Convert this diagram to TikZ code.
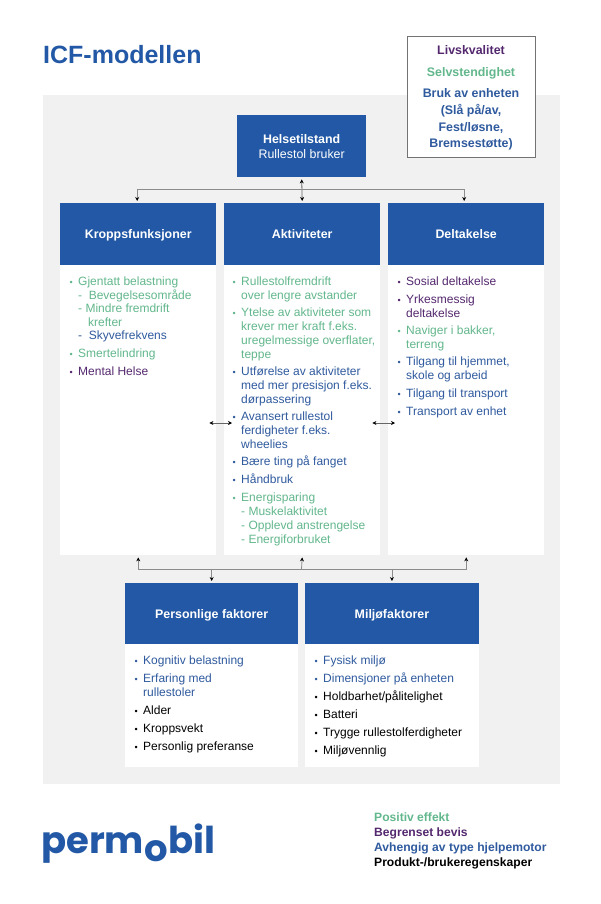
\documentclass[tikz,border=0pt]{standalone}
\usepackage{fontspec}
\setmainfont{Liberation Sans}
\newfontfamily\logofont{Poppins}
\definecolor{pblue}{HTML}{2258A5}
\definecolor{tblue}{HTML}{2F5A9E}
\definecolor{pgreen}{HTML}{62B78C}
\definecolor{ppurple}{HTML}{54286E}
\definecolor{pgray}{HTML}{F1F1F1}
\newcommand{\bl}{\strut\llap{\scalebox{0.75}{\textbullet}\hspace{5.5pt}}}
\tikzset{
  headbox/.style={fill=pblue,text=white,font=\fontsize{12.4}{15}\selectfont\bfseries,align=center,
    anchor=north west,inner sep=0pt,minimum height=62pt},
  onehead/.style={headbox,text height=10.5pt,text depth=1.5pt},
  bodybox/.style={fill=white,anchor=north west,inner sep=0pt},
  listitem/.style={anchor=north west,inner sep=0pt,align=left,font=\fontsize{12}{14}\selectfont},
  legend/.style={anchor=base west,inner sep=0pt,font=\fontsize{12.1}{14}\selectfont\bfseries},
  goal/.style={anchor=base,inner sep=0pt,font=\fontsize{12.4}{14}\selectfont\bfseries},
  logo/.style={anchor=base west,inner sep=0pt,text=pblue,font=\logofont\fontsize{37}{37}\selectfont\bfseries},
  link/.style={draw=black!45,line width=0.8pt},
  tip/.style={-{Stealth[black,length=4pt,width=4pt]},draw=black!45,line width=0.8pt},
  tips/.style={{Stealth[black,length=4pt,width=4pt]}-{Stealth[black,length=4pt,width=4pt]},draw=black!60,line width=0.8pt},
}
\usetikzlibrary{arrows.meta,calc}
\begin{document}
\begin{tikzpicture}[x=1pt,y=-1pt]
\useasboundingbox (0,0) rectangle (600,904);
\fill[pgray] (43,95) rectangle (560,784);
\node[anchor=base west,inner sep=0pt,text=pblue,font=\fontsize{25}{28}\selectfont\bfseries] (title) at (43,64) {ICF-modellen};
% outcome box
\node[draw=black!55,fill=white,anchor=north west,inner sep=0pt,minimum width=128pt,minimum height=121pt] (goalbox) at (407,36) {};
\node[goal,text=ppurple] (g1) at (471,55) {Livskvalitet};
\node[goal,text=pgreen] (g2) at (471,77) {Selvstendighet};
\node[goal,text=tblue] (g3) at (471,98) {Bruk av enheten};
\node[goal,text=tblue] (g4) at (471,115) {(Slå på/av,};
\node[goal,text=tblue] (g5) at (471,132) {Fest/løsne,};
\node[goal,text=tblue] (g6) at (471,148) {Bremsestøtte)};
% header boxes
\node[headbox,minimum width=129pt] (helse) at (237,115) {Helsetilstand\\\mdseries Rullestol bruker};
\node[onehead,minimum width=156pt] (kropp) at (60,203) {Kroppsfunksjoner};
\node[onehead,minimum width=156pt] (aktiv) at (224,203) {Aktiviteter};
\node[onehead,minimum width=156pt] (delta) at (388,203) {Deltakelse};
\node[bodybox,minimum width=156pt,minimum height=290pt] (kroppbody) at (60,265) {};
\node[bodybox,minimum width=156pt,minimum height=290pt] (aktivbody) at (224,265) {};
\node[bodybox,minimum width=156pt,minimum height=290pt] (deltabody) at (388,265) {};
\node[onehead,minimum width=173pt,minimum height=61pt] (person) at (125,583) {Personlige faktorer};
\node[onehead,minimum width=173.5pt,minimum height=61pt] (miljo) at (305,583) {Miljøfaktorer};
\node[bodybox,minimum width=173pt,minimum height=123pt] (personbody) at (125,644) {};
\node[bodybox,minimum width=173.5pt,minimum height=123pt] (miljobody) at (305,644) {};
% connectors
\coordinate (topbar) at (301.5,189);
\coordinate (lowbar) at (301.5,569);
\draw[tips] ([yshift=-2pt]helse.south) -- ([yshift=2pt]aktiv.north);
\draw[tip] (topbar) -| ([shift={(-1pt,2pt)}]kropp.north);
\draw[tip] (topbar) -| ([shift={(-2pt,2pt)}]delta.north);
\draw[tips] ([xshift=-7pt]kroppbody.east |- 0,423) -- ([xshift=8pt]aktivbody.west |- 0,423);
\draw[tips] ([xshift=-8pt]aktivbody.east |- 0,423) -- ([xshift=7pt]deltabody.west |- 0,423);
\draw[tip] (lowbar) -| ([yshift=-2pt]kroppbody.south);
\draw[tip] (lowbar) -- ([yshift=-2pt]aktivbody.south);
\draw[tip] (lowbar) -| ([yshift=-2pt]deltabody.south);
\draw[tip] (lowbar) -| ([yshift=2pt]person.north);
\draw[tip] (lowbar) -| ([yshift=2pt]miljo.north);
% lists
\node[listitem,text=pgreen] (k1) at (78,275) {\bl Gjentatt belastning};
\node[listitem,text=pgreen] (k2) at (78,289) {\strut-\hspace{3.3pt} Bevegelsesområde};
\node[listitem,text=pgreen] (k3) at (78,302) {\strut- Mindre fremdrift\\\hspace{10pt}krefter};
\node[listitem,text=tblue] (k4) at (78,329) {\strut-\hspace{3.3pt} Skyvefrekvens};
\node[listitem,text=pgreen] (k5) at (78,347) {\bl Smertelindring};
\node[listitem,text=ppurple] (k6) at (78,365) {\bl Mental Helse};
\node[listitem,text=pgreen] (a1) at (241,275) {\bl Rullestolfremdrift\\over lengre avstander};
\node[listitem,text=pgreen] (a2) at (241,306) {\bl Ytelse av aktiviteter som\\krever mer kraft f.eks.\\uregelmessige overflater,\\teppe};
\node[listitem,text=tblue] (a3) at (241,365) {\bl Utførelse av aktiviteter\\med mer presisjon f.eks.\\dørpassering};
\node[listitem,text=tblue] (a4) at (241,410) {\bl Avansert rullestol\\ferdigheter f.eks.\\wheelies};
\node[listitem,text=tblue] (a5) at (241,455) {\bl Bære ting på fanget};
\node[listitem,text=tblue] (a6) at (241,473) {\bl Håndbruk};
\node[listitem,text=pgreen] (a7) at (241,491) {\bl Energisparing\\- Muskelaktivitet\\- Opplevd anstrengelse\\- Energiforbruket};
\node[listitem,text=ppurple] (d1) at (406,275) {\bl Sosial deltakelse};
\node[listitem,text=ppurple] (d2) at (406,293) {\bl Yrkesmessig\\deltakelse};
\node[listitem,text=pgreen] (d3) at (406,324) {\bl Naviger i bakker,\\terreng};
\node[listitem,text=tblue] (d4) at (406,355) {\bl Tilgang til hjemmet,\\skole og arbeid};
\node[listitem,text=tblue] (d5) at (406,387) {\bl Tilgang til transport};
\node[listitem,text=tblue] (d6) at (406,405) {\bl Transport av enhet};
\node[listitem,text=tblue] (p1) at (143,654) {\bl Kognitiv belastning};
\node[listitem,text=tblue] (p2) at (143,672) {\bl Erfaring med\\rullestoler};
\node[listitem] (p3) at (143,704) {\bl Alder};
\node[listitem] (p4) at (143,722) {\bl Kroppsvekt};
\node[listitem] (p5) at (143,740) {\bl Personlig preferanse};
\node[listitem,text=tblue] (m1) at (323,654) {\bl Fysisk miljø};
\node[listitem,text=tblue] (m2) at (323,672) {\bl Dimensjoner på enheten};
\node[listitem] (m3) at (323,690) {\bl Holdbarhet/pålitelighet};
\node[listitem] (m4) at (323,708) {\bl Batteri};
\node[listitem] (m5) at (323,726) {\bl Trygge rullestolferdigheter};
\node[listitem] (m6) at (323,744) {\bl Miljøvennlig};
% logo and legend
\node[logo] (logoa) at (41,853) {perm};
\node[logo] (logob) at ([yshift=-8pt]logoa.base east) {o};
\node[logo] (logoc) at ([yshift=8pt]logob.base east) {bil};
\node[legend,text=pgreen] (l1) at (374,821) {Positiv effekt};
\node[legend,text=ppurple] (l2) at (374,836) {Begrenset bevis};
\node[legend,text=tblue] (l3) at (374,851) {Avhengig av type hjelpemotor};
\node[legend] (l4) at (374,866) {Produkt-/brukeregenskaper};
\end{tikzpicture}
\end{document}
